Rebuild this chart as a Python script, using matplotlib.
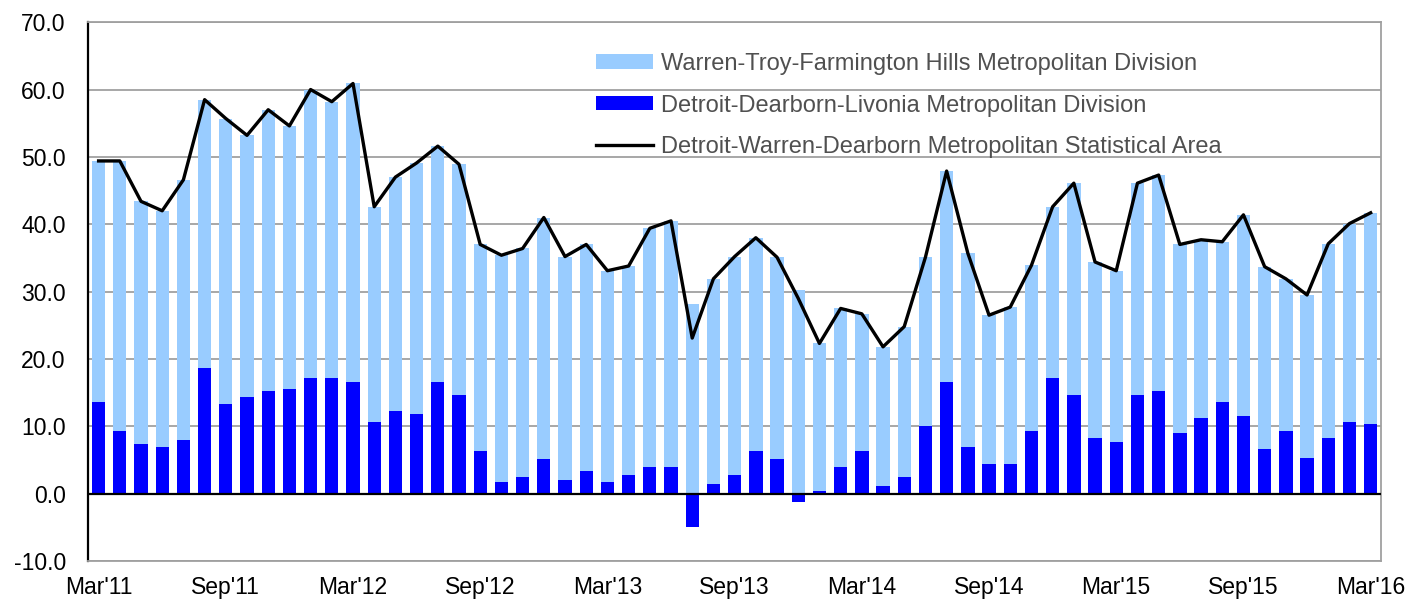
import matplotlib.pyplot as plt
import numpy as np

plt.rcParams['font.family'] = ['Liberation Sans', 'DejaVu Sans']

# Monthly over-the-year change, Mar'11 .. Mar'16
months = ["Mar'11", "Apr'11", "May'11", "Jun'11", "Jul'11", "Aug'11",
          "Sep'11", "Oct'11", "Nov'11", "Dec'11", "Jan'12", "Feb'12",
          "Mar'12", "Apr'12", "May'12", "Jun'12", "Jul'12", "Aug'12",
          "Sep'12", "Oct'12", "Nov'12", "Dec'12", "Jan'13", "Feb'13",
          "Mar'13", "Apr'13", "May'13", "Jun'13", "Jul'13", "Aug'13",
          "Sep'13", "Oct'13", "Nov'13", "Dec'13", "Jan'14", "Feb'14",
          "Mar'14", "Apr'14", "May'14", "Jun'14", "Jul'14", "Aug'14",
          "Sep'14", "Oct'14", "Nov'14", "Dec'14", "Jan'15", "Feb'15",
          "Mar'15", "Apr'15", "May'15", "Jun'15", "Jul'15", "Aug'15",
          "Sep'15", "Oct'15", "Nov'15", "Dec'15", "Jan'16", "Feb'16",
          "Mar'16"]

detroit = [13.6, 9.3, 7.3, 7.0, 8.0, 18.6, 13.3, 14.3, 15.2, 15.6, 17.2, 17.2,
           16.6, 10.6, 12.3, 11.9, 16.6, 14.6, 6.3, 1.7, 2.4, 5.1, 2.1, 3.4,
           1.7, 2.7, 4.0, 4.0, -5.0, 1.4, 2.7, 6.3, 5.1, -1.2, 0.4, 4.0,
           6.3, 1.1, 2.4, 10.0, 16.6, 7.0, 4.4, 4.4, 9.3, 17.2, 14.6, 8.3,
           7.7, 14.6, 15.2, 9.0, 11.3, 13.6, 11.6, 6.6, 9.3, 5.3, 8.3, 10.6,
           10.3]

warren = [35.8, 40.1, 36.1, 35.0, 38.6, 39.9, 42.4, 38.9, 41.8, 39.0, 42.8, 41.0,
          44.3, 32.0, 34.7, 37.2, 35.0, 34.3, 30.7, 33.7, 34.0, 35.9, 33.1, 33.6,
          31.4, 31.1, 35.4, 36.5, 28.1, 30.5, 32.5, 31.7, 30.0, 30.2, 21.9, 23.5,
          20.4, 20.7, 22.4, 25.1, 31.3, 28.7, 22.1, 23.3, 24.6, 25.4, 31.5, 26.1,
          25.4, 31.5, 32.1, 28.0, 26.4, 23.8, 29.8, 27.1, 22.6, 24.2, 28.8, 29.5,
          31.4]

detroit = np.array(detroit)
warren = np.array(warren)
msa = detroit + warren
x = np.arange(len(months))

fig = plt.figure(figsize=(14.08, 6), dpi=100)
ax = fig.add_axes([0.0625, 0.065, 0.9185, 0.898])

light = '#99CCFF'
dark = '#0000FF'
width = 0.63

# Excel-style stacking: positive pieces stack upward from zero
h_det = ax.bar(x, detroit, width=width, color=dark, zorder=2)
h_war = ax.bar(x, warren, width=width, bottom=np.clip(detroit, 0, None),
               color=light, zorder=2)
h_msa, = ax.plot(x, msa, color='black', linewidth=2.4, zorder=4)

ax.set_xlim(-0.5, len(months) - 0.5)
ax.set_ylim(-10, 70)
ax.set_yticks(np.arange(-10, 71, 10))
ax.set_yticklabels([f'{v:.1f}' for v in np.arange(-10, 71, 10)])
ax.set_xticks(x[::6])
ax.set_xticklabels(months[::6])
ax.tick_params(axis='both', length=0, labelsize=16.5, colors='black')
ax.tick_params(axis='y', pad=16)
ax.tick_params(axis='x', pad=11)

ax.yaxis.grid(True, color='#a0a0a0', linewidth=1.3, zorder=0)
ax.set_axisbelow(True)
ax.axhline(0, color='black', linewidth=1.6, zorder=3)

for side in ['top', 'right', 'bottom']:
    ax.spines[side].set_color('#a0a0a0')
    ax.spines[side].set_linewidth(1.3)
ax.spines['left'].set_color('black')
ax.spines['left'].set_linewidth(1.6)

leg = ax.legend([h_war, h_det, h_msa],
                ['Warren-Troy-Farmington Hills Metropolitan Division',
                 'Detroit-Dearborn-Livonia Metropolitan Division',
                 'Detroit-Warren-Dearborn Metropolitan Statistical Area'],
                loc='upper left', bbox_to_anchor=(0.393, 0.943),
                frameon=False, fontsize=17, handlelength=2.4,
                handleheight=0.55, handletextpad=0.34, labelspacing=0.83,
                borderpad=0, borderaxespad=0)
for t in leg.get_texts():
    t.set_color('#505050')

fig.savefig('out.png', dpi=100)
